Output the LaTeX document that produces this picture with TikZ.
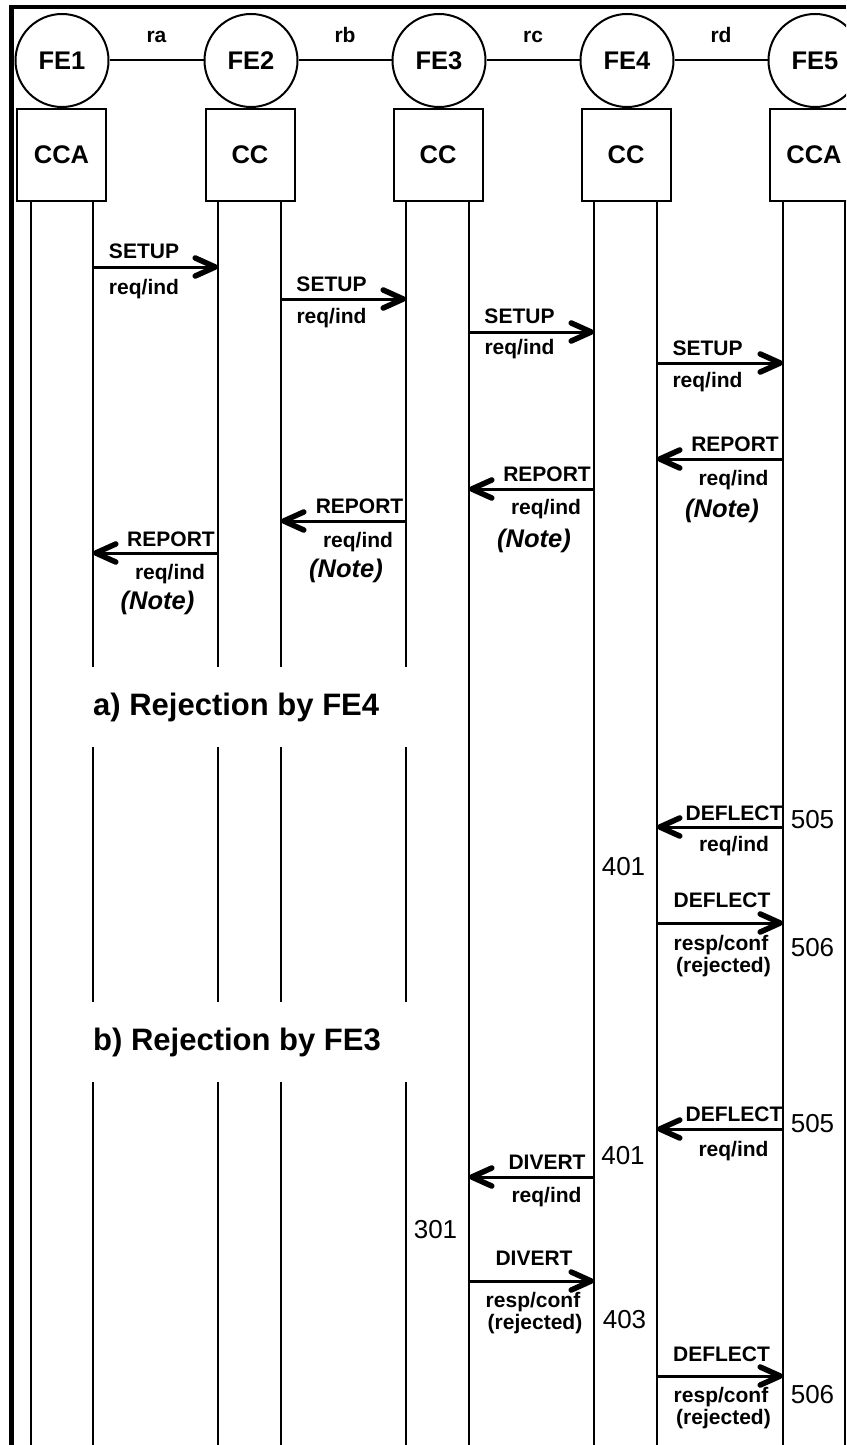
\documentclass[tikz,border=0pt]{standalone}
\usepackage{fontspec}
\setmainfont{Liberation Sans}
\usetikzlibrary{arrows.meta}
\begin{document}
\begin{tikzpicture}[x=1pt,y=-1pt,
  fe/.style={circle,draw,line width=2pt,minimum size=93pt,inner sep=0pt,font=\fontsize{25.5}{30}\selectfont\bfseries},
  fbox/.style={draw,line width=2pt,minimum width=89pt,minimum height=92pt,inner sep=0pt,font=\fontsize{25.5}{30}\selectfont\bfseries},
  link/.style={line width=2pt},
  life/.style={line width=2.2pt},
  msg/.style={line width=3pt,-{Straight Barb[length=20pt,width=18pt,line width=5.5pt,round]}},
  lab/.style={font=\fontsize{21}{25}\selectfont\bfseries,inner sep=0pt,anchor=base},
  note/.style={font=\fontsize{25.5}{30}\selectfont\bfseries\itshape,inner sep=0pt,anchor=base},
  num/.style={font=\fontsize{26}{30}\selectfont,inner sep=0pt,anchor=base},
  ttl/.style={font=\fontsize{31}{36}\selectfont\bfseries,inner sep=0pt,anchor=base west},
]
\useasboundingbox (0,0) rectangle (846,1445);
\clip (0,0) rectangle (846,1445);
% frame
\fill (8.5,4.75) rectangle (13.5,1445);
\fill (8.5,4.75) rectangle (846,9.25);

% functional entities
\node[fe] (fe1) at (62,60.5) {FE1};
\node[fe] (fe2) at (251,60.5) {FE2};
\node[fe] (fe3) at (439,60.5) {FE3};
\node[fe] (fe4) at (627,60.5) {FE4};
\node[fe] (fe5) at (815,60.5) {FE5};
\draw[link] (fe1) -- (fe2);
\draw[link] (fe2) -- (fe3);
\draw[link] (fe3) -- (fe4);
\draw[link] (fe4) -- (fe5);
\node[lab] (ra) at (156.5,43) {ra};
\node[lab] (rb) at (345,43) {rb};
\node[lab] (rc) at (533,43) {rc};
\node[lab] (rd) at (721,43) {rd};

\node[fbox] (b1) at (61.5,155) {CCA};
\node[fbox] (b2) at (250,155) {CC};
\node[fbox] (b3) at (438,155) {CC};
\node[fbox] (b4) at (626,155) {CC};
\node[fbox] (b5) at (814,155) {CCA};

% lifelines
\foreach \x in {31,469,594,657,783,845}{
  \draw[life] (\x,202) -- (\x,1445);
}
\foreach \x in {93,218,281,406}{
  \draw[life] (\x,202) -- (\x,667);
  \draw[life] (\x,747) -- (\x,1002);
  \draw[life] (\x,1082) -- (\x,1445);
}

% message end points
\coordinate (m1s) at (93,267);   \coordinate (m1e) at (218,267);
\coordinate (m2s) at (281,299);  \coordinate (m2e) at (406,299);
\coordinate (m3s) at (469,332);  \coordinate (m3e) at (594,332);
\coordinate (m4s) at (657,363);  \coordinate (m4e) at (783,363);
\coordinate (r4s) at (783,459);  \coordinate (r4e) at (657,459);
\coordinate (r3s) at (594,489);  \coordinate (r3e) at (469,489);
\coordinate (r2s) at (406,521);  \coordinate (r2e) at (281,521);
\coordinate (r1s) at (218,553);  \coordinate (r1e) at (93,553);
\coordinate (d1s) at (783,827);  \coordinate (d1e) at (657,827);
\coordinate (d2s) at (657,923);  \coordinate (d2e) at (783,923);
\coordinate (d3s) at (783,1129); \coordinate (d3e) at (657,1129);
\coordinate (v1s) at (594,1177); \coordinate (v1e) at (469,1177);
\coordinate (v2s) at (469,1281); \coordinate (v2e) at (594,1281);
\coordinate (d4s) at (657,1376); \coordinate (d4e) at (783,1376);

\foreach \m in {m1,m2,m3,m4,r4,r3,r2,r1,d1,d2,d3,v1,v2,d4}{
  \draw[msg] (\m s) -- (\m e);
}

% SETUP labels
\node[lab] (m1a) at (144,258) {SETUP};   \node[lab] (m1b) at (144,294) {req/ind};
\node[lab] (m2a) at (331.5,291) {SETUP}; \node[lab] (m2b) at (331.5,323.5) {req/ind};
\node[lab] (m3a) at (519.5,323) {SETUP}; \node[lab] (m3b) at (519.5,354) {req/ind};
\node[lab] (m4a) at (707.5,355) {SETUP}; \node[lab] (m4b) at (707.5,387) {req/ind};

% REPORT labels
\node[lab] (r4a) at (735,451) {REPORT};   \node[lab] (r4b) at (733.5,485) {req/ind}; \node[note] (r4c) at (722,517) {(Note)};
\node[lab] (r3a) at (547,481) {REPORT};   \node[lab] (r3b) at (546,514) {req/ind};   \node[note] (r3c) at (534,547) {(Note)};
\node[lab] (r2a) at (359.5,513) {REPORT}; \node[lab] (r2b) at (358,547) {req/ind};   \node[note] (r2c) at (346,577) {(Note)};
\node[lab] (r1a) at (171,546) {REPORT};   \node[lab] (r1b) at (170,579) {req/ind};   \node[note] (r1c) at (157.5,609) {(Note)};

% titles
\node[ttl] (ta) at (93,715) {a) Rejection by FE4};
\node[ttl] (tb) at (93,1050) {b) Rejection by FE3};

% case a
\node[lab] (d1a) at (734,820) {DEFLECT}; \node[lab] (d1b) at (734,851) {req/ind};
\node[num] (n505a) at (812.5,828) {505};
\node[num] (n401a) at (623.5,875) {401};
\node[lab] (d2a) at (722,907) {DEFLECT}; \node[lab] (d2b) at (721,950) {resp/conf}; \node[lab] (d2c) at (723.5,972) {(rejected)};
\node[num] (n506a) at (812.5,956) {506};

% case b
\node[lab] (d3a) at (734,1121) {DEFLECT}; \node[lab] (d3b) at (733.5,1156) {req/ind};
\node[num] (n505b) at (812.5,1132) {505};
\node[num] (n401b) at (623,1164) {401};
\node[lab] (v1a) at (547,1169) {DIVERT}; \node[lab] (v1b) at (546.5,1202) {req/ind};
\node[num] (n301) at (435.5,1238) {301};
\node[lab] (v2a) at (534,1265) {DIVERT}; \node[lab] (v2b) at (533,1307) {resp/conf}; \node[lab] (v2c) at (535,1329) {(rejected)};
\node[num] (n403) at (624.5,1328) {403};
\node[lab] (d4a) at (721.5,1361) {DEFLECT}; \node[lab] (d4b) at (721,1402) {resp/conf}; \node[lab] (d4c) at (723.5,1424) {(rejected)};
\node[num] (n506b) at (812.5,1403) {506};
\end{tikzpicture}
\end{document}
